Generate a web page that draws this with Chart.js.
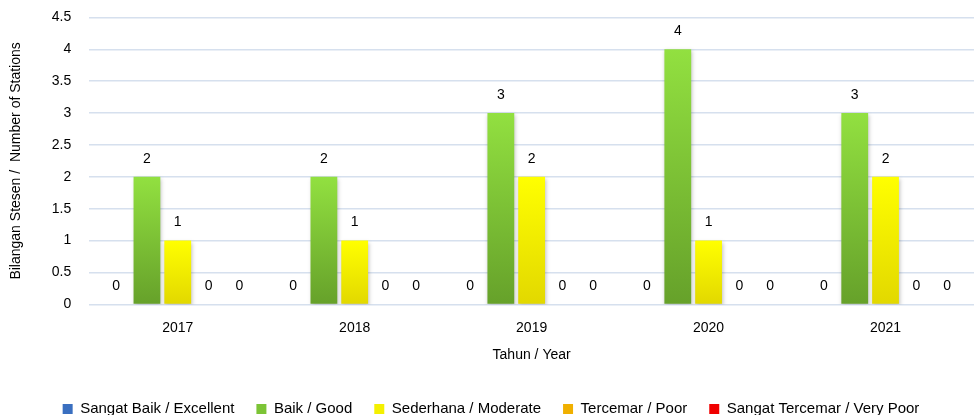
<!DOCTYPE html>
<html>
<head>
<meta charset="utf-8">
<script src="https://cdn.jsdelivr.net/npm/chart.js@4/dist/chart.umd.min.js"></script>
<style>
  html, body { margin: 0; padding: 0; background: #fff; }
  #wrap { width: 974px; height: 415px; position: relative; }
</style>
</head>
<body>
<div id="wrap"><canvas id="quality-chart"></canvas></div>
<script>
// data
const years = ['2017', '2018', '2019', '2020', '2021'];
const excellent = [0, 0, 0, 0, 0];
const good = [2, 2, 3, 4, 3];
const moderate = [1, 1, 2, 1, 2];
const poor = [0, 0, 0, 0, 0];
const veryPoor = [0, 0, 0, 0, 0];
const yTicks = [0, 0.5, 1, 1.5, 2, 2.5, 3, 3.5, 4, 4.5];

const seriesLabels = ['Sangat Baik / Excellent', 'Baik / Good', 'Sederhana / Moderate', 'Tercemar / Poor', 'Sangat Tercemar / Very Poor'];
const topColors = ['#4a7fd0', '#92e040', '#ffff00', '#ffc000', '#ff0000'];
const bottomColors = ['#2e5fa8', '#66a12a', '#e2d800', '#e09a00', '#d00000'];
const legendColors = ['#3a6fc0', '#7cc436', '#f4f000', '#f0b000', '#f00000'];
const FONT = 'Liberation Sans';

function barFill(i) {
    return function (ctx) {
        const chart = ctx.chart;
        if (!chart.chartArea || ctx.raw === undefined) return topColors[i];
        const y = chart.scales.y;
        const top = y.getPixelForValue(ctx.raw);
        const bottom = y.getPixelForValue(0);
        if (bottom - top < 1) return topColors[i];
        const g = chart.ctx.createLinearGradient(0, top, 0, bottom);
        g.addColorStop(0, topColors[i]);
        g.addColorStop(1, bottomColors[i]);
        return g;
    };
}

const seriesData = [excellent, good, moderate, poor, veryPoor];
const datasets = seriesData.map(function (d, i) {
    return {
        label: seriesLabels[i],
        data: d,
        backgroundColor: barFill(i),
        borderWidth: 0,
        categoryPercentage: 0.87,
        barPercentage: 0.87
    };
});

// value above every bar, zeros included
const valueLabels = {
    id: 'valueLabels',
    afterDatasetsDraw(chart) {
        const c = chart.ctx;
        c.save();
        c.font = '14px "' + FONT + '"';
        c.fillStyle = '#000';
        c.textAlign = 'center';
        c.textBaseline = 'middle';
        chart.data.datasets.forEach(function (ds, di) {
            chart.getDatasetMeta(di).data.forEach(function (bar, i) {
                c.fillText(String(ds.data[i]), bar.x, bar.y - 18);
            });
        });
        c.restore();
    }
};

// soft shadow under the bars
const barShadow = {
    id: 'barShadow',
    beforeDatasetsDraw(chart) {
        chart.ctx.save();
        chart.ctx.shadowColor = 'rgba(0,0,0,0.25)';
        chart.ctx.shadowBlur = 4;
        chart.ctx.shadowOffsetX = 1;
        chart.ctx.shadowOffsetY = 2;
    },
    afterDatasetsDraw(chart) {
        chart.ctx.restore();
    }
};

new Chart(document.getElementById('quality-chart'), {
    type: 'bar',
    data: { labels: years, datasets: datasets },
    plugins: [barShadow, valueLabels],
    options: {
        responsive: true,
        maintainAspectRatio: false,
        animation: false,
        layout: { padding: { left: 8, right: 0, top: 0, bottom: -11.5 } },
        scales: {
            x: {
                grid: { display: false },
                border: { display: false },
                ticks: { color: '#000', font: { family: FONT, size: 14 }, padding: 7 },
                title: { display: true, text: 'Tahun / Year', color: '#000', font: { family: FONT, size: 14 }, padding: { top: 4, bottom: 15.5 } }
            },
            y: {
                min: 0,
                max: 4.5,
                afterBuildTicks: function (axis) {
                    axis.ticks = yTicks.map(function (v) { return { value: v }; });
                },
                grid: { color: '#d6e0ee', lineWidth: 1.5, drawTicks: true, tickLength: 9, tickColor: 'rgba(0,0,0,0)' },
                border: { display: false },
                ticks: {
                    color: '#000',
                    font: { family: FONT, size: 14 },
                    padding: 9,
                    callback: function (v) { return String(v); }
                },
                title: { display: true, text: 'Bilangan Stesen /  Number of Stations', color: '#000', font: { family: FONT, size: 14 }, padding: { top: 0, bottom: 18 } }
            }
        },
        plugins: {
            tooltip: { enabled: false },
            legend: {
                position: 'bottom',
                labels: {
                    color: '#000',
                    font: { family: FONT, size: 15 },
                    boxWidth: 10,
                    boxHeight: 10,
                    padding: 22,
                    generateLabels: function (chart) {
                        return seriesLabels.map(function (t, i) {
                            return { text: t, fillStyle: legendColors[i], strokeStyle: legendColors[i], lineWidth: 0, datasetIndex: i, hidden: false };
                        });
                    }
                }
            }
        }
    }
});
</script>
</body>
</html>
